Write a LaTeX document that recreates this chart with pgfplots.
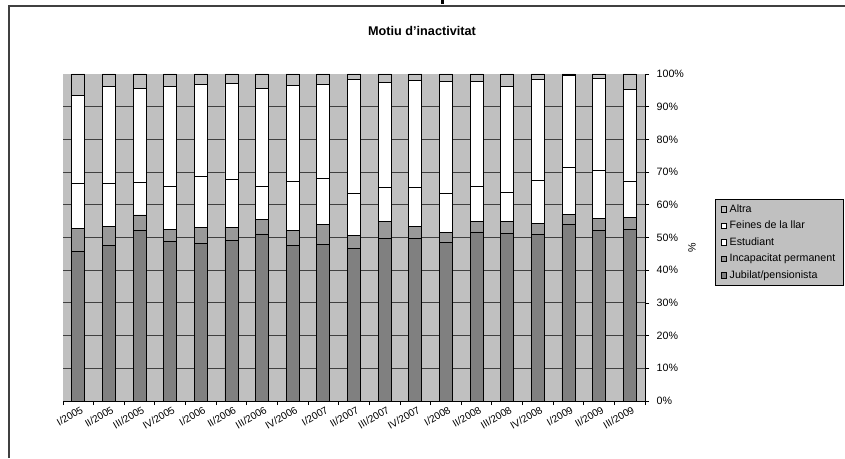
\documentclass[border=0pt]{standalone}
\usepackage{fontspec}
\setmainfont{Liberation Sans}
\usepackage{pgfplots}
\usepackage{pgfplotstable}
\pgfplotsset{compat=1.18}
\definecolor{bg}{RGB}{192,192,192}
\definecolor{jub}{RGB}{128,128,128}
\definecolor{inc}{RGB}{153,153,153}
\definecolor{grd}{RGB}{64,64,64}

% share of each reason, per quarter (%)
\pgfplotstableread{
x  jub  inc est  fei  alt
1  45.6 7.2 13.8 26.8 6.6
2  47.5 5.8 13.3 29.5 3.9
3  52.2 4.7 10.0 28.6 4.5
4  48.9 3.7 12.9 30.6 3.9
5  48.3 4.8 15.7 28.1 3.1
6  49.2 3.9 14.7 29.4 2.8
7  51.1 4.5 9.9  30.2 4.3
8  47.5 4.7 14.9 29.5 3.4
9  47.9 6.1 14.1 28.8 3.1
10 46.7 3.9 12.9 34.9 1.6
11 49.6 5.3 10.5 31.9 2.7
12 49.6 3.9 11.7 32.7 2.1
13 48.6 3.0 11.9 34.1 2.4
14 51.7 3.2 10.8 32.1 2.2
15 51.2 3.7 8.8  32.4 3.9
16 50.9 3.4 13.1 31.0 1.6
17 53.9 3.2 14.4 28.0 0.5
18 52.2 3.6 14.7 28.1 1.4
19 52.5 3.5 11.3 27.9 4.8
}\data

\pgfplotsset{sq/.style={legend image code/.code={\draw[##1, line width=0.5pt] (0pt,-2.1pt) rectangle (4.2pt,2.1pt);}}}

\begin{document}
\begin{tikzpicture}[x=0.75pt,y=0.75pt]
\path[use as bounding box] (0,0) rectangle (845,458);
\draw[line width=1.2pt, black!75] (9,0) -- (9,452) -- (846,452);
\fill[black] (441,454) rectangle (444,459);
\node[font=\bfseries\fontsize{9.5}{11}\selectfont] at (422,427) {Motiu d'inactivitat};
\node[rotate=90, font=\fontsize{8}{10}\selectfont] at (692,210) {\%};
\begin{axis}[
  at={(47.25pt,42.75pt)}, anchor=south west,
  scale only axis, width=436.5pt, height=245.25pt,
  ybar stacked, bar width=9.75pt,
  xmin=0.5, xmax=19.5, ymin=0, ymax=100,
  axis x line*=bottom, axis y line*=right,
  axis line style={black, line width=0.75pt},
  axis background/.style={fill=bg},
  xtick={1,...,19},
  xticklabels={I/2005,II/2005,III/2005,IV/2005,I/2006,II/2006,III/2006,IV/2006,I/2007,II/2007,III/2007,IV/2007,I/2008,II/2008,III/2008,IV/2008,I/2009,II/2009,III/2009},
  minor xtick={0.5,1.5,...,19.5},
  major x tick style={draw=none},
  tick align=outside,
  major tick length=3pt, minor tick length=3pt,
  tick style={black, line width=0.6pt},
  xticklabel style={rotate=30, anchor=north east, font=\fontsize{7.6}{9}\selectfont, inner sep=1pt, xshift=2pt},
  ytick={0,10,...,100},
  yticklabel={\pgfmathprintnumber{\tick}\%},
  yticklabel style={font=\fontsize{8}{9.6}\selectfont, anchor=west, xshift=2.2pt},
  extra y ticks={10,20,...,90}, extra y tick labels={},
  extra y tick style={grid=major},
  major grid style={grd, line width=0.8pt},
  /pgf/number format/assume math mode=true,
  reverse legend,
  legend cell align=left,
  legend style={at={(1.1203,0.6177)}, anchor=north west, fill=bg, draw=black, line width=0.6pt,
    font=\fontsize{8}{9.6}\selectfont, row sep=1pt, inner xsep=4pt},
  every axis plot/.append style={draw=black, line width=0.6pt},
]
\addplot[fill=jub, sq] table[x=x, y=jub] {\data};
\addplot[fill=inc, sq] table[x=x, y=inc] {\data};
\addplot[fill=white, sq] table[x=x, y=est] {\data};
\addplot[fill=white, sq] table[x=x, y=fei] {\data};
\addplot[fill=bg, sq] table[x=x, y=alt] {\data};
\legend{Jubilat/pensionista, Incapacitat permanent, Estudiant, Feines de la llar, Altra}
\end{axis}
\end{tikzpicture}
\end{document}
